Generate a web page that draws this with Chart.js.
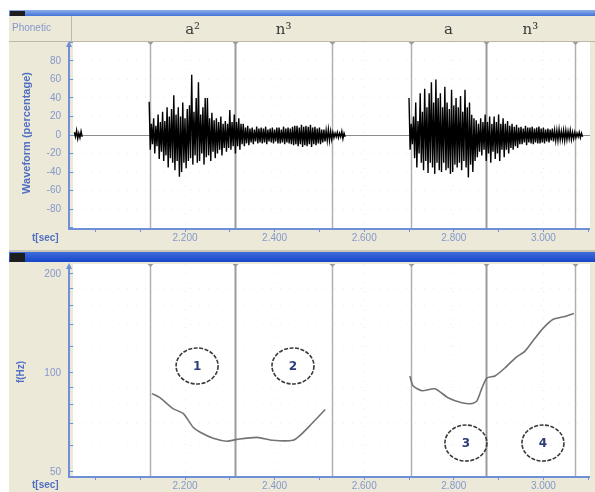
<!DOCTYPE html>
<html><head><meta charset="utf-8">
<script src="https://cdn.jsdelivr.net/npm/chart.js@4/dist/chart.umd.min.js"></script>
<style>
html,body{margin:0;padding:0;background:#fff;}
#wrap{position:relative;width:595px;height:492px;overflow:hidden;}
#c1{position:absolute;left:0;top:0;width:595px;height:250px;}
#c2{position:absolute;left:0;top:250px;width:595px;height:242px;}
</style></head><body>
<div id="wrap"><canvas id="c1" width="595" height="250"></canvas><canvas id="c2" width="595" height="242"></canvas></div>
<script>
// ---------- data ----------
const segmentBounds = [2.122, 2.312, 2.528, 2.704, 2.872, 3.070];
const phoneLabels = ['a²', 'n³', 'a', 'n³'];
const phoneFrom = [0, 1, 3, 4];
const xTickValues = [2.0,2.1,2.2,2.3,2.4,2.5,2.6,2.7,2.8,2.9,3.0,3.1];
const xLabelValues = [2.2, 2.4, 2.6, 2.8, 3.0];
const xLabelTexts = ['2.200','2.400','2.600','2.800','3.000'];
const waveTicks = [-100,-80,-60,-40,-20,0,20,40,60,80,100];
const pitchTicks = [50,60,70,80,90,100,120,140,160,180,200];
const pitchLabelValues = [50,100,200];

const waveStep = 0.005;
const wave0Start = 1.953;
const wave0Hi = [3,5,2,4];
const wave0Lo = [-2,-4,-3,-2];
const wave1Start = 2.120;
const wave1Hi = [36,12, 18,10,22,14, 25,15,30,20, 28,43,22,30, 20,35,18,28, 32,65,25,40, 57,22,30,40, 40,18,24,16, 18,14,20,12, 15,12,27,14, 22,14,18,12, 12,8,10,7, 8,6,9,7, 8,7,9,6, 7,8,6,8, 8,6,9,7, 8,7,9,10, 10,8,11,9, 10,9,11,8, 9,7,8,6, 6,5,6,4, 3,2,3,2,4,2];
const wave1Lo = [-16,-10, -20,-12,-26,-18, -28,-22,-35,-25, -30,-38,-28,-45, -40,-30,-36,-28, -25,-32,-22,-30, -28,-20,-32,-24, -22,-28,-18,-25, -20,-16,-22,-14, -18,-14,-16,-12, -20,-12,-16,-10, -12,-9,-11,-8, -10,-7,-9,-8, -9,-8,-10,-7, -8,-9,-7,-9, -9,-8,-10,-8, -9,-10,-11,-10, -12,-10,-13,-11, -12,-10,-13,-10, -11,-9,-10,-8, -7,-6,-6,-5, -3,-2,-3,-2,-4,-2];
const wave2Start = 2.700;
const wave2Hi = [40,12, 20,35,15,45, 25,50,30,45, 57,35,60,40, 45,30,52,35, 28,49,32,40, 30,42,25,49, 30,35,22,18, 16,12,18,14, 22,14,20,12, 20,14,22,12, 18,12,15,10, 12,9,11,8, 9,7,10,8, 8,9,7,8, 9,7,8,6, 7,6,7,5, 5,6,4,5, 5,4,5,3, 3,2,3,2];
const wave2Lo = [-16,-10, -25,-35,-20,-30, -38,-28,-41,-30, -35,-42,-30,-38, -40,-30,-38,-36, -42,-40,-32,-35, -30,-38,-28,-35, -46,-32,-40,-28, -24,-18,-22,-16, -28,-20,-30,-18, -26,-20,-28,-16, -24,-16,-20,-14, -16,-12,-14,-10, -10,-8,-11,-8, -9,-10,-8,-9, -9,-8,-9,-7, -8,-6,-7,-6, -6,-5,-5,-6, -5,-4,-5,-4, -3,-2,-3,-2];

const pitch1T = [2.126,2.144,2.173,2.196,2.218,2.234,2.263,2.294,2.316,2.361,2.396,2.441,2.457,2.479,2.513];
const pitch1F = [86.5,84.1,77.9,75.3,68.4,66.0,63.3,62.0,62.8,63.7,62.4,62.4,64.6,69.2,77.4];
const pitch2T = [2.702,2.709,2.729,2.758,2.787,2.818,2.841,2.852,2.863,2.874,2.892,2.914,2.937,2.959,2.981,2.999,3.021,3.048,3.068];
const pitch2F = [97.9,91.4,88.3,89.5,84.1,81.2,80.7,82.4,90.1,96.6,97.9,103.5,111,116.5,127.4,136.6,145.4,148.5,151.6];

const annotLabels = ['1','2','3','4'];
const annotT = [2.227, 2.441, 2.827, 2.999];
const annotF = [105, 105, 61.2, 61.2];

// ---------- helpers ----------
const BEIGE = '#ECE9D8';
const AXISBLUE = '#6f8fd6';
const TICKCOL = '#8598cc';
const TITLECOL = '#4f6fc4';

function buildWave(start, hi, lo){
  const pts = [];
  for (let i = 0; i < hi.length; i++){
    pts.push({x: start + i*waveStep, y: hi[i]});
    pts.push({x: start + i*waveStep + waveStep/2, y: lo[i]});
  }
  return pts;
}
function zip(t, v){ return t.map((x,i)=>({x:x, y:v[i]})); }

function titleBar(ctx, y, h, c1, c2){
  const g = ctx.createLinearGradient(0, y, 0, y+h);
  g.addColorStop(0, c1); g.addColorStop(1, c2);
  ctx.fillStyle = g; ctx.fillRect(9, y, 586, h);
  ctx.fillStyle = '#1d1d1d'; ctx.fillRect(10, y+1, 15, h-1);
}
function drawSegLines(chart){
  const ctx = chart.ctx, a = chart.chartArea, xs = chart.scales.x;
  ctx.save();
  segmentBounds.forEach((t, i) => {
    const x = Math.round(xs.getPixelForValue(t)) + 0.5;
    ctx.strokeStyle = (i === 1 || i === 4) ? '#9a9a9a' : '#b0b0b0';
    ctx.lineWidth = (i === 1 || i === 4) ? 2 : 1.5;
    ctx.beginPath(); ctx.moveTo(x, a.top); ctx.lineTo(x, a.bottom); ctx.stroke();
    ctx.fillStyle = '#9a9a9a';
    ctx.beginPath(); ctx.moveTo(x-3, a.top); ctx.lineTo(x+3, a.top); ctx.lineTo(x, a.top+3); ctx.fill();
  });
  ctx.restore();
}
function drawAxes(chart){
  const ctx = chart.ctx, a = chart.chartArea;
  ctx.save();
  ctx.strokeStyle = AXISBLUE; ctx.lineWidth = 2;
  ctx.beginPath(); ctx.moveTo(69, a.top+2); ctx.lineTo(69, a.bottom+1); ctx.lineTo(a.right, a.bottom+1); ctx.stroke();
  ctx.fillStyle = AXISBLUE;
  ctx.beginPath(); ctx.moveTo(66, a.top+5); ctx.lineTo(72, a.top+5); ctx.lineTo(69, a.top-1); ctx.fill();
  ctx.restore();
}

const xScaleCommon = (h) => ({
  type: 'linear', min: 1.95, max: 3.104,
  afterFit: s => { s.height = h; },
  afterBuildTicks: s => { s.ticks = xTickValues.map(v => ({value: v})); },
  border: {display: false, dash: [1, 8]},
  grid: {
    drawOnChartArea: true, tickLength: 4, tickColor: AXISBLUE,
    color: ctx => (ctx.tick && xLabelValues.some(v => Math.abs(v - ctx.tick.value) < 1e-6)) ? 'rgba(0,0,0,0.08)' : 'rgba(0,0,0,0)'
  },
  ticks: {
    padding: 0, color: TICKCOL, font: {family: 'Liberation Sans', size: 10}, maxRotation: 0, autoSkip: false,
    callback: v => { const k = xLabelValues.findIndex(x => Math.abs(x - v) < 1e-6); return k >= 0 ? xLabelTexts[k] : ''; }
  }
});

// ---------- top chart: waveform ----------
const frame1 = {
  id: 'frame1',
  beforeDraw(chart){
    const ctx = chart.ctx, a = chart.chartArea;
    ctx.save();
    ctx.fillStyle = '#fff'; ctx.fillRect(0, 0, 595, 250);
    ctx.fillStyle = BEIGE; ctx.fillRect(9, 16, 586, 234);
    ctx.fillStyle = '#fff'; ctx.fillRect(a.left, a.top, a.right - a.left, a.bottom - a.top);
    titleBar(ctx, 10, 6, '#8eaeea', '#4272d8');
    ctx.strokeStyle = '#bdb9a6'; ctx.lineWidth = 1;
    ctx.beginPath(); ctx.moveTo(9, 41.5); ctx.lineTo(595, 41.5); ctx.stroke();
    ctx.beginPath(); ctx.moveTo(71.5, 16); ctx.lineTo(71.5, 41); ctx.stroke();
    ctx.fillStyle = TICKCOL; ctx.font = '10px "Liberation Sans"'; ctx.textBaseline = 'middle'; ctx.textAlign = 'left';
    ctx.fillText('Phonetic', 12, 28);
    const xs = chart.scales.x;
    ctx.fillStyle = '#3a3a3a'; ctx.font = '15px "DejaVu Serif"'; ctx.textAlign = 'center'; ctx.textBaseline = 'alphabetic';
    phoneLabels.forEach((lab, i) => {
      const x = (xs.getPixelForValue(segmentBounds[phoneFrom[i]]) + xs.getPixelForValue(segmentBounds[phoneFrom[i]+1])) / 2;
      ctx.fillText(lab, x, 34);
    });
    ctx.fillStyle = TITLECOL; ctx.font = 'bold 11px "Liberation Sans"';
    ctx.save(); ctx.translate(27, 133); ctx.rotate(-Math.PI/2); ctx.textBaseline = 'middle'; ctx.fillText('Waveform (percentage)', 0, 0); ctx.restore();
    ctx.textAlign = 'left'; ctx.textBaseline = 'middle'; ctx.font = 'bold 10px "Liberation Sans"';
    ctx.fillText('t[sec]', 32, 238);
    ctx.restore();
  },
  beforeDatasetsDraw(chart){
    const ctx = chart.ctx, a = chart.chartArea;
    drawSegLines(chart);
    const y0 = Math.round(chart.scales.y.getPixelForValue(0)) + 0.5;
    ctx.save(); ctx.strokeStyle = '#8c8c8c'; ctx.lineWidth = 1;
    ctx.beginPath(); ctx.moveTo(a.left, y0); ctx.lineTo(a.right, y0); ctx.stroke(); ctx.restore();
    drawAxes(chart);
  }
};

const waveDs = (pts) => ({data: pts, borderColor: '#000', borderWidth: 1.4, pointRadius: 0, tension: 0, showLine: true, fill: false});

new Chart(document.getElementById('c1'), {
  type: 'scatter',
  data: {datasets: [waveDs(buildWave(wave0Start, wave0Hi, wave0Lo)), waveDs(buildWave(wave1Start, wave1Hi, wave1Lo)), waveDs(buildWave(wave2Start, wave2Hi, wave2Lo))]},
  options: {
    responsive: false, animation: false, events: [],
    layout: {padding: {top: 42, right: 5, bottom: 0, left: 0}},
    plugins: {legend: {display: false}, tooltip: {enabled: false}},
    scales: {
      x: xScaleCommon(22),
      y: {
        type: 'linear', min: -100.5, max: 100.5,
        afterFit: s => { s.width = 73; },
        afterBuildTicks: s => { s.ticks = waveTicks.map(v => ({value: v})); },
        border: {display: false, dash: [1, 8]},
        grid: {tickLength: 4, tickColor: AXISBLUE, color: ctx => (ctx.tick && Math.abs(ctx.tick.value) <= 80 && ctx.tick.value !== 0) ? 'rgba(0,0,0,0.08)' : 'rgba(0,0,0,0)'},
        ticks: {padding: 8, color: TICKCOL, font: {family: 'Liberation Sans', size: 10},
          callback: v => (Math.abs(v) <= 80 ? String(v) : '')}
      }
    }
  },
  plugins: [frame1]
});

// ---------- bottom chart: pitch ----------
const frame2 = {
  id: 'frame2',
  beforeDraw(chart){
    const ctx = chart.ctx, a = chart.chartArea;
    ctx.save();
    ctx.fillStyle = '#fff'; ctx.fillRect(0, 0, 595, 242);
    ctx.fillStyle = BEIGE; ctx.fillRect(9, 0, 586, 242);
    ctx.fillStyle = '#c9c6b6'; ctx.fillRect(9, 0, 586, 2);
    ctx.fillStyle = '#fff'; ctx.fillRect(a.left, a.top, a.right - a.left, a.bottom - a.top);
    titleBar(ctx, 2, 10, '#3f6ddc', '#1546c8');
    ctx.fillStyle = TITLECOL; ctx.font = 'bold 10px "Liberation Sans"';
    ctx.save(); ctx.translate(21, 122); ctx.rotate(-Math.PI/2); ctx.textAlign = 'center'; ctx.textBaseline = 'middle'; ctx.fillText('f(Hz)', 0, 0); ctx.restore();
    ctx.textAlign = 'left'; ctx.textBaseline = 'middle';
    ctx.fillText('t[sec]', 32, 235);
    ctx.restore();
  },
  beforeDatasetsDraw(chart){ drawSegLines(chart); drawAxes(chart); },
  afterDatasetsDraw(chart){
    const ctx = chart.ctx, xs = chart.scales.x, ys = chart.scales.y;
    ctx.save();
    annotLabels.forEach((lab, i) => {
      const x = xs.getPixelForValue(annotT[i]), y = ys.getPixelForValue(annotF[i]);
      ctx.strokeStyle = '#3a3a3a'; ctx.lineWidth = 1.6; ctx.setLineDash([4, 1.5]);
      ctx.beginPath(); ctx.ellipse(x, y, 21, 18, 0, 0, Math.PI*2); ctx.stroke();
      ctx.setLineDash([]);
      ctx.fillStyle = '#2c3d7a'; ctx.font = 'bold 12px "DejaVu Sans"'; ctx.textAlign = 'center'; ctx.textBaseline = 'middle';
      ctx.fillText(lab, x, y + 1);
    });
    ctx.restore();
  }
};

const pitchDs = (pts) => ({data: pts, borderColor: '#737373', borderWidth: 1.6, pointRadius: 0, tension: 0.2, showLine: true, fill: false});

new Chart(document.getElementById('c2'), {
  type: 'scatter',
  data: {datasets: [pitchDs(zip(pitch1T, pitch1F)), pitchDs(zip(pitch2T, pitch2F))]},
  options: {
    responsive: false, animation: false, events: [],
    layout: {padding: {top: 12, right: 5, bottom: 0, left: 0}},
    plugins: {legend: {display: false}, tooltip: {enabled: false}},
    scales: {
      x: xScaleCommon(16),
      y: {
        type: 'logarithmic', min: 48.6, max: 214.4,
        afterFit: s => { s.width = 73; },
        afterBuildTicks: s => { s.ticks = pitchTicks.map(v => ({value: v})); },
        border: {display: false, dash: [1, 8]},
        grid: {tickLength: 4, tickColor: AXISBLUE, color: ctx => (ctx.tick && pitchLabelValues.indexOf(ctx.tick.value) < 0) ? 'rgba(0,0,0,0.07)' : 'rgba(0,0,0,0)'},
        ticks: {padding: 8, color: TICKCOL, font: {family: 'Liberation Sans', size: 10}, autoSkip: false,
          callback: v => (pitchLabelValues.indexOf(v) >= 0 ? String(v) : '')}
      }
    }
  },
  plugins: [frame2]
});
</script>
</body></html>
